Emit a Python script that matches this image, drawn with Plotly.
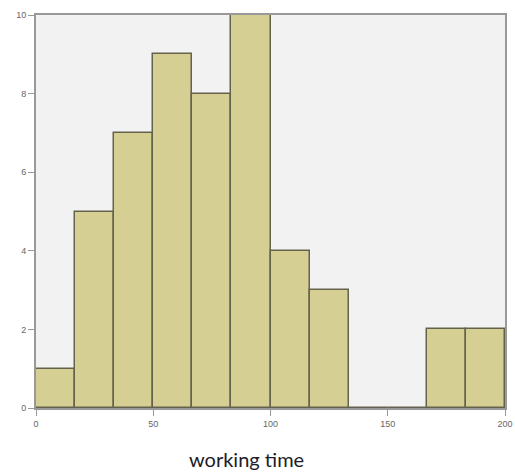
import plotly.graph_objects as go

bin_width = 200 / 12
bin_starts = [i * bin_width for i in range(12)]
counts = [1, 5, 7, 9, 8, 10, 4, 3, 0, 0, 2, 2]
x_ticks = [0, 50, 100, 150, 200]
y_ticks = [0, 2, 4, 6, 8, 10]
x_title = "working time"

centers = [s + bin_width / 2 for s in bin_starts]

fig = go.Figure(go.Bar(
    x=centers, y=counts, width=[bin_width] * len(counts),
    marker=dict(color="#d6cf94", line=dict(color="#64624c", width=1.5)),
))

fig.update_layout(
    width=515, height=472,
    margin=dict(l=36, r=10, t=15, b=64, autoexpand=False),
    paper_bgcolor="white", plot_bgcolor="#f2f2f2",
    showlegend=False, bargap=0,
    font=dict(family="Liberation Sans", color="#666666", size=9),
    annotations=[dict(
        text=x_title, xref="paper", yref="paper", x=0.448, y=-0.13,
        xanchor="center", yanchor="middle", showarrow=False,
        font=dict(family="Lato", size=20, color="#1c1c2a"),
    )],
)
fig.update_xaxes(
    range=[0, 200], tickvals=x_ticks, showgrid=False, zeroline=False,
    showline=True, linecolor="#999999", linewidth=2, mirror=True,
    ticks="outside", ticklen=6, tickcolor="#999999", automargin=False,
)
fig.update_yaxes(
    range=[0, 10], tickvals=y_ticks, showgrid=False, zeroline=False,
    showline=True, linecolor="#999999", linewidth=2, mirror=True,
    ticks="outside", ticklen=6, tickcolor="#999999", automargin=False,
)

fig.write_html(
    "out.html",
    config={"displayModeBar": False},
    post_script="document.body.style.margin='0px';document.body.style.overflow='hidden';",
)
